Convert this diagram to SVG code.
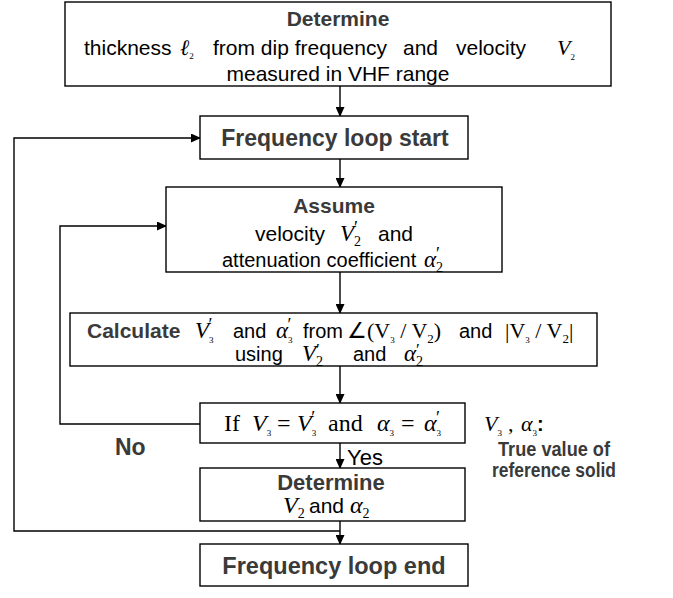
<svg xmlns="http://www.w3.org/2000/svg" width="673" height="598" viewBox="0 0 673 598">
<defs>
<marker id="ah" markerWidth="10" markerHeight="9" refX="9" refY="4.5" orient="auto" markerUnits="userSpaceOnUse">
<path d="M0,0 L10,4.5 L0,9 z" fill="#000"/>
</marker>
<style>
.box{fill:#fff;stroke:#000;stroke-width:1.4}
.t{font-family:"Liberation Sans",Arial,sans-serif;fill:#000}
.b{font-weight:bold;fill:#3a3a3a}
.m{font-family:"Liberation Serif","Times New Roman",serif;font-style:italic}
.s{font-family:"Liberation Serif","Times New Roman",serif}
.c{fill:none;stroke:#000;stroke-width:1.4}
</style>
</defs>
<rect width="673" height="598" fill="#fff"/>
<g id="connectors">
<path class="c" d="M340,86 V116" marker-end="url(#ah)"/>
<path class="c" d="M340,159 V187" marker-end="url(#ah)"/>
<path class="c" d="M340,272 V313" marker-end="url(#ah)"/>
<path class="c" d="M340,366 V403" marker-end="url(#ah)"/>
<path class="c" d="M340,443 V468" marker-end="url(#ah)"/>
<path class="c" d="M340,521 V544" marker-end="url(#ah)"/>
<path class="c" d="M200,424 H60 V226 H166" marker-end="url(#ah)"/>
<path class="c" d="M340,531 H14 V138 H200" marker-end="url(#ah)"/>
<text class="t b" x="115" y="455" font-size="23">No</text>
<text class="t" x="347" y="465" font-size="22">Yes</text>
</g>
<g id="n1">
<rect class="box" x="65" y="2" width="546" height="84"/>
<text class="t b" x="338" y="26" font-size="21" text-anchor="middle">Determine</text>
<text class="t" y="55" font-size="21"><tspan x="84">thickness</tspan><tspan x="180" class="m" font-size="22">ℓ</tspan><tspan class="s" font-size="9" baseline-shift="-4">2</tspan><tspan x="213">from dip frequency</tspan><tspan x="403">and</tspan><tspan x="456">velocity</tspan><tspan x="557" class="m" font-size="22">V</tspan><tspan class="s" font-size="9" baseline-shift="-5">2</tspan></text>
<text class="t" x="338" y="81" font-size="21" text-anchor="middle">measured in VHF range</text>
</g>
<g id="n2">
<rect class="box" x="200" y="116" width="268" height="43"/>
<text class="t b" x="335" y="146" font-size="23" text-anchor="middle">Frequency loop start</text>
</g>
<g id="n3">
<rect class="box" x="166" y="187" width="336" height="85"/>
<text class="t b" x="334" y="213" font-size="21" text-anchor="middle">Assume</text>
<text class="t" y="241" font-size="21"><tspan x="255">velocity</tspan><tspan x="340" class="m" font-size="23">V</tspan><tspan class="s" font-size="14" baseline-shift="-5">2</tspan><tspan class="s" font-size="18" dx="-7" baseline-shift="7">′</tspan><tspan x="378">and</tspan></text>
<text class="t" y="267" font-size="20"><tspan x="222">attenuation coefficient</tspan><tspan x="424" class="m" font-size="23">α</tspan><tspan class="s" font-size="14" baseline-shift="-5">2</tspan><tspan class="s" font-size="18" dx="-7" baseline-shift="7">′</tspan></text>
</g>
<g id="n4">
<rect class="box" x="70" y="313" width="527" height="53"/>
<text class="t" y="338" font-size="20"><tspan x="87" class="b" font-size="21">Calculate</tspan><tspan x="195" class="m" font-size="23">V</tspan><tspan class="s" font-size="9" baseline-shift="-5">3</tspan><tspan class="s" font-size="18" dx="-5" baseline-shift="7">′</tspan><tspan x="233">and</tspan><tspan x="276" class="m" font-size="23">α</tspan><tspan class="s" font-size="9" baseline-shift="-5">3</tspan><tspan class="s" font-size="18" dx="-5" baseline-shift="7">′</tspan><tspan x="303">from</tspan><tspan x="347" class="s" font-size="22">∠(V</tspan><tspan class="s" font-size="9" baseline-shift="-5">3</tspan><tspan class="s" font-size="22"> / V</tspan><tspan class="s" font-size="13" baseline-shift="-5">2</tspan><tspan class="s" font-size="22">)</tspan><tspan x="459">and</tspan><tspan x="505" class="s" font-size="22">|V</tspan><tspan class="s" font-size="9" baseline-shift="-5">3</tspan><tspan class="s" font-size="22"> / V</tspan><tspan class="s" font-size="13" baseline-shift="-5">2</tspan><tspan class="s" font-size="22">|</tspan></text>
<text class="t" y="361" font-size="20"><tspan x="235">using</tspan><tspan x="302" class="m" font-size="23">V</tspan><tspan class="s" font-size="14" baseline-shift="-5">2</tspan><tspan class="s" font-size="17" dx="-7" baseline-shift="6">′</tspan><tspan x="353">and</tspan><tspan x="404" class="m" font-size="23">α</tspan><tspan class="s" font-size="14" baseline-shift="-5">2</tspan><tspan class="s" font-size="17" dx="-7" baseline-shift="6">′</tspan></text>
</g>
<g id="n5">
<rect class="box" x="200" y="403" width="265" height="40"/>
<text class="s" y="431" font-size="24"><tspan x="224">If</tspan><tspan x="252" class="m">V</tspan><tspan font-size="9" baseline-shift="-5">3</tspan><tspan x="277">=</tspan><tspan x="297" class="m">V</tspan><tspan font-size="9" baseline-shift="-5">3</tspan><tspan font-size="18" dx="-5" baseline-shift="7">′</tspan><tspan x="328">and</tspan><tspan x="377" class="m">α</tspan><tspan font-size="9" baseline-shift="-5">3</tspan><tspan x="401">=</tspan><tspan x="424" class="m">α</tspan><tspan font-size="9" baseline-shift="-5">3</tspan><tspan font-size="18" dx="-5" baseline-shift="7">′</tspan></text>
</g>
<g id="note">
<text class="s" y="431" font-size="22"><tspan x="484" class="m">V</tspan><tspan font-size="9" baseline-shift="-5">3</tspan><tspan x="508">,</tspan><tspan x="521" class="m">α</tspan><tspan font-size="9" baseline-shift="-5">3</tspan><tspan font-family="Liberation Sans,Arial,sans-serif" font-weight="bold" font-size="20">:</tspan></text>
<text class="t b" x="498" y="456" font-size="20" fill="#111" textLength="112" lengthAdjust="spacingAndGlyphs">True value of</text>
<text class="t b" x="492" y="477" font-size="20" fill="#111" textLength="124" lengthAdjust="spacingAndGlyphs">reference solid</text>
</g>
<g id="n6">
<rect class="box" x="200" y="468" width="265" height="53"/>
<text class="t b" x="331" y="490" font-size="22" text-anchor="middle">Determine</text>
<text class="t" y="513" font-size="21"><tspan x="283" class="m" font-size="24">V</tspan><tspan class="s" font-size="14" baseline-shift="-5">2</tspan><tspan x="309">and</tspan><tspan x="350" class="m" font-size="24">α</tspan><tspan class="s" font-size="14" baseline-shift="-5">2</tspan></text>
</g>
<g id="n7">
<rect class="box" x="200" y="544" width="268" height="42"/>
<text class="t b" x="334" y="574" font-size="23.5" text-anchor="middle">Frequency loop end</text>
</g>
</svg>
